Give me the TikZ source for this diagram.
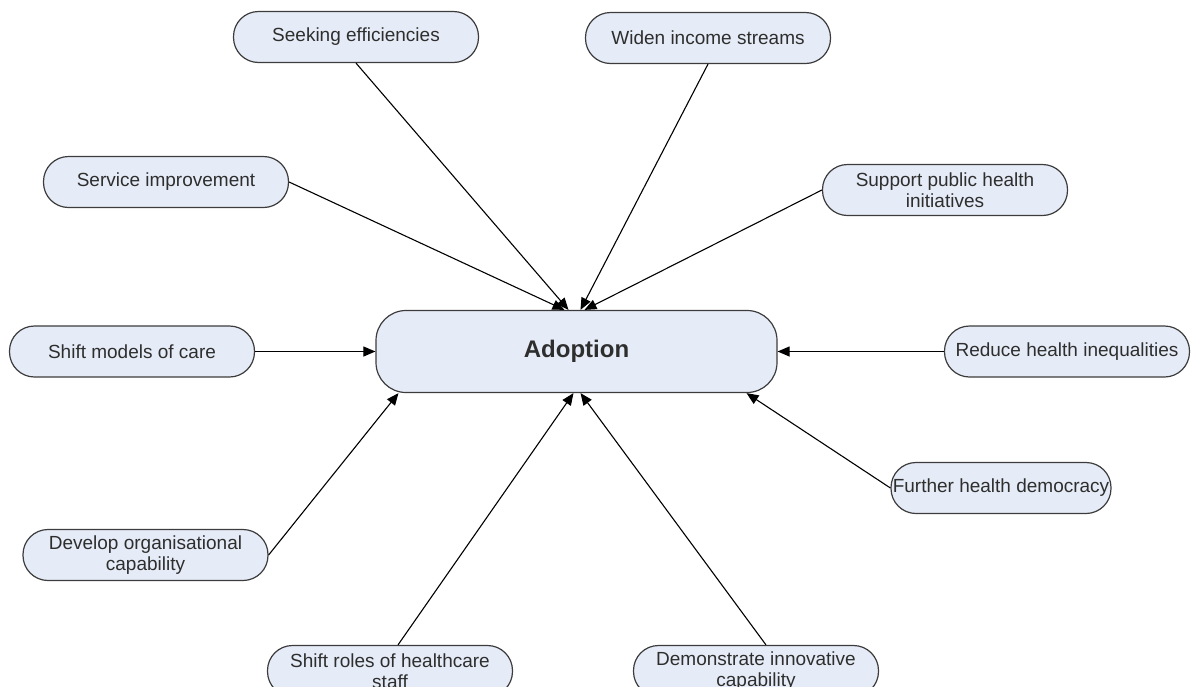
\documentclass[tikz,border=0pt]{standalone}
\usepackage{fontspec}
\setmainfont{Liberation Sans}
\usetikzlibrary{arrows.meta}
\definecolor{boxfill}{HTML}{E6ECF7}
\definecolor{boxline}{HTML}{3C3C3C}
\definecolor{boxtext}{HTML}{2E2E2E}
\begin{document}
\begin{tikzpicture}[x=1pt,y=-1pt,
  goal/.style={draw=boxline, line width=1.2pt, fill=boxfill, text=boxtext,
    rounded corners=25pt, minimum width=245pt, minimum height=51pt,
    inner sep=0pt, align=center,
    font=\fontsize{19}{21}\selectfont},
  hub/.style={draw=boxline, line width=1.2pt, fill=boxfill, text=boxtext,
    rounded corners=30pt, minimum width=401pt, minimum height=82pt,
    inner sep=0pt, font=\fontsize{24}{28}\selectfont\bfseries},
  feed/.style={draw=black, line width=1.1pt, -{Triangle[length=12pt,width=10pt]}}]
\useasboundingbox (0,0) rectangle (1192,686);

% central outcome
\node[hub] (adopt) at (576.5,351.5) {Adoption};

% drivers
\node[goal] (seek)  at (356,37)    {Seeking efficiencies};
\node[goal] (widen) at (708,38)    {Widen income streams};
\node[goal] (serv)  at (166,182)   {Service improvement};
\node[goal] (supp)  at (945,190)   {Support public health\\initiatives};
\node[goal] (model) at (132,351.5) {Shift models of care};
\node[goal] (reduce) at (1067,351.5) {Reduce health inequalities};
\node[goal, minimum width=220pt] (demo) at (1001,488) {Further health democracy};
\node[goal] (orgcap) at (145.5,555) {Develop organisational\\capability};
\node[goal] (roles) at (390,671)   {Shift roles of healthcare\\staff};
\node[goal] (innov) at (756,671)   {Demonstrate innovative\\capability};

% connectors into the hub
\draw[feed] (serv.east)  -- ([xshift=-12pt]adopt.north);
\draw[feed] (seek.south) -- ([xshift=-8pt]adopt.north);
\draw[feed] (widen.south) -- ([xshift=4pt]adopt.north);
\draw[feed] (supp.west)  -- ([xshift=8pt]adopt.north);
\draw[feed] (model.east) -- (adopt.west);
\draw[feed] (reduce.west) -- (adopt.east);
\draw[feed] (orgcap.east) -- ([xshift=-178pt]adopt.south);
\draw[feed] ([xshift=8pt]roles.north) -- ([xshift=-3pt]adopt.south);
\draw[feed] ([xshift=10pt]innov.north) -- ([xshift=4pt]adopt.south);
\draw[feed] (demo.west) -- ([xshift=170pt]adopt.south);
\end{tikzpicture}
\end{document}
